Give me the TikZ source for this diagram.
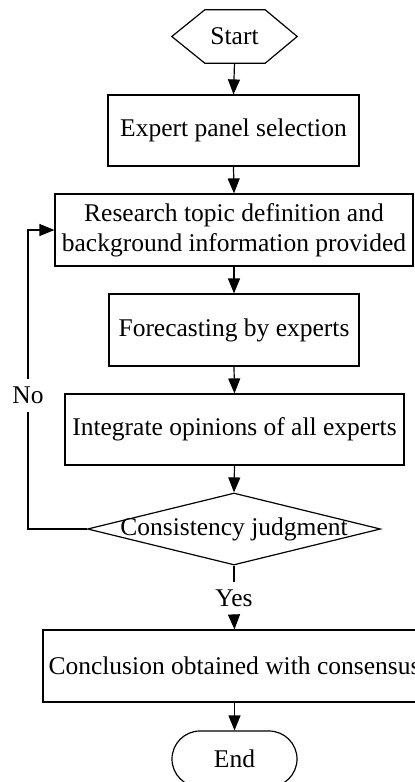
\documentclass[tikz,border=0pt]{standalone}
\usepackage{fontspec}
\setmainfont{Liberation Serif}
\usetikzlibrary{arrows.meta,calc,shapes.geometric}
\begin{document}
\begin{tikzpicture}[x=1pt,y=-1pt,
  every node/.style={font=\fontsize{25.5}{30}\selectfont},
  stepbox/.style={draw,line width=1.2pt,rectangle,inner sep=0pt,align=center},
  conn/.style={line width=1.2pt},
  arr/.style={line width=1.2pt,-{Triangle[length=15pt,width=12pt]}}]
\useasboundingbox (0,0) rectangle (415,782);
\clip (0,0) rectangle (415,782);
\fill[white] (0,0) rectangle (415,782);
% nodes
\node[inner sep=0pt,minimum width=125pt,minimum height=53pt] (start) at (234.5,36.5) {Start};
\draw[line width=1.2pt] (start.west) -- ([xshift=33pt]start.north west) -- ([xshift=-32pt]start.north east)
  -- (start.east) -- ([xshift=-32pt]start.south east) -- ([xshift=33pt]start.south west) -- cycle;
\node[stepbox,minimum width=251pt,minimum height=71pt] (expert) at (233.5,130.5) {Expert panel selection};
\node[stepbox,minimum width=358pt,minimum height=72pt] (research) at (234,230) {Research topic definition and\\background information provided};
\node[stepbox,minimum width=250pt,minimum height=72pt] (forecast) at (234,330) {Forecasting by experts};
\node[stepbox,minimum width=339pt,minimum height=71pt] (integrate) at (234.5,429.5) {Integrate opinions of all experts};
\node[diamond,draw,line width=1.2pt,inner sep=0pt,minimum width=293pt,minimum height=72pt,aspect=4] (judge) at (234,529) {};
\node[inner sep=0pt] (judgetext) at (234,529) {Consistency judgment};
\node[inner sep=0pt,minimum height=33pt] (yes) at (234,598.5) {Yes};
\node[stepbox,minimum width=383pt,minimum height=72pt] (concl) at (234.5,666) {Conclusion obtained with consensus};
\node[draw,line width=1.2pt,rounded corners=28pt,inner sep=0pt,minimum width=125pt,minimum height=56pt] (endn) at (234.5,759) {End};
\node[inner sep=0pt,minimum height=33pt] (no) at (28,395.5) {No};
% connectors
\draw[arr] (start.south) -- (expert.north);
\draw[arr] (expert.south) -- (research.north);
\draw[arr] (research.south) -- (forecast.north);
\draw[arr] (forecast.south) -- (integrate.north);
\draw[arr] (integrate.south) -- (judge.north);
\draw[conn] (judge.south) -- (yes.north);
\draw[arr] (yes.south) -- (concl.north);
\draw[arr] (concl.south) -- (endn.north);
\draw[conn] (judge.west) -| (no.south);
\draw[arr] (no.north) |- (research.west);
\end{tikzpicture}
\end{document}
